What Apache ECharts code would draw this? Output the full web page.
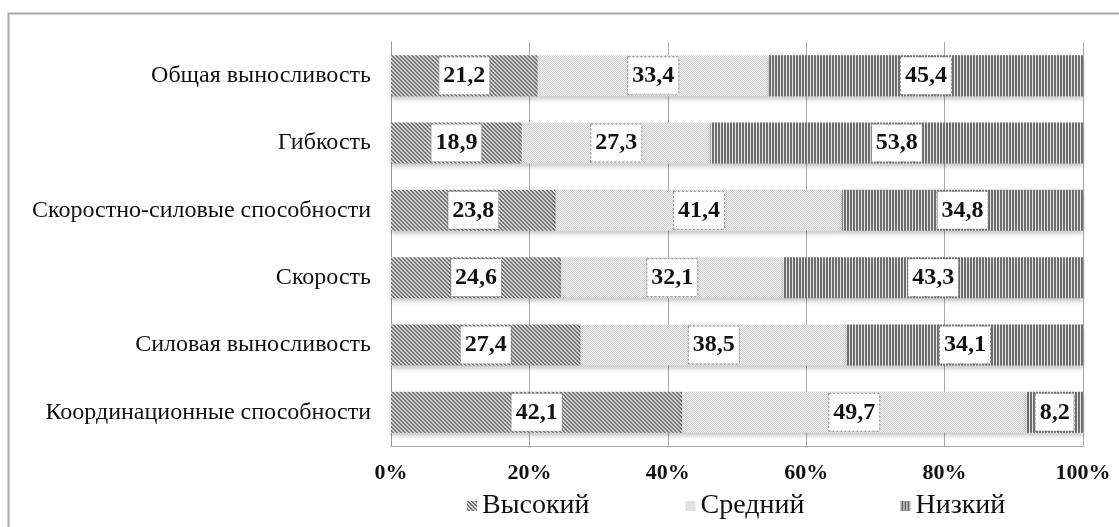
<!DOCTYPE html>
<html>
<head>
<meta charset="utf-8">
<script src="https://cdn.jsdelivr.net/npm/echarts@6/dist/echarts.min.js"></script>
<style>
  html, body { margin: 0; padding: 0; background: #fff; }
  #chart { width: 1119px; height: 527px; }
</style>
</head>
<body>
<div id="chart"></div>
<script>
// Уровни развития физических качеств, %
const categories = [
  'Общая выносливость',
  'Гибкость',
  'Скоростно-силовые способности',
  'Скорость',
  'Силовая выносливость',
  'Координационные способности'
];
const seriesNames = ['Высокий', 'Средний', 'Низкий'];
const highValues = [21.2, 18.9, 23.8, 24.6, 27.4, 42.1];
const midValues = [33.4, 27.3, 41.4, 32.1, 38.5, 49.7];
const lowValues = [45.4, 53.8, 34.8, 43.3, 34.1, 8.2];
const xTicks = [0, 20, 40, 60, 80, 100];

const SERIF = '"Liberation Serif", "DejaVu Serif", serif';

// Hatch fills drawn into small tiles
function tile(w, h, draw) {
  const c = document.createElement('canvas');
  c.width = w; c.height = h;
  const ctx = c.getContext('2d');
  draw(ctx);
  return c;
}
const diagTile = tile(4, 4, ctx => {
  ctx.fillStyle = '#d6d6d6';
  ctx.fillRect(0, 0, 4, 4);
  ctx.fillStyle = '#737373';
  for (let i = 0; i < 4; i++) {
    ctx.fillRect(i, i, 1, 1);
    ctx.fillRect((i + 1) % 4, i, 1, 1);
  }
});
const dotTile = tile(2, 2, ctx => {
  ctx.fillStyle = '#f4f4f4';
  ctx.fillRect(0, 0, 2, 2);
  ctx.fillStyle = '#cfcfcf';
  ctx.fillRect(0, 0, 1, 1);
  ctx.fillRect(1, 1, 1, 1);
});
const vertTile = tile(3, 3, ctx => {
  ctx.fillStyle = '#e4e4e4';
  ctx.fillRect(0, 0, 3, 3);
  ctx.fillStyle = '#6e6e6e';
  ctx.fillRect(1, 0, 2, 3);
});
const fills = [diagTile, dotTile, vertTile];
const values = [highValues, midValues, lowValues];

const chart = echarts.init(document.getElementById('chart'), null, { renderer: 'canvas' });

const series = seriesNames.map((name, i) => ({
  name,
  type: 'bar',
  stack: 'total',
  barWidth: '61%',
  data: values[i],
  itemStyle: {
    color: { image: fills[i], repeat: 'repeat' },
    shadowColor: 'rgba(0,0,0,0.22)',
    shadowBlur: 4,
    shadowOffsetY: 3
  },
  label: {
    show: true,
    position: 'inside',
    formatter: p => String(p.value).replace('.', ','),
    fontFamily: SERIF,
    fontWeight: 'bold',
    fontSize: 24,
    color: '#111',
    backgroundColor: '#fff',
    borderColor: '#888',
    borderWidth: 1,
    borderType: 'dotted',
    padding: [7, 4, 6, 4]
  },
  emphasis: { disabled: true }
}));

chart.setOption({
  animation: false,
  backgroundColor: '#fff',
  graphic: [{
    type: 'rect',
    shape: { x: 8.5, y: 13.5, width: 1300, height: 700 },
    style: { fill: 'none', stroke: '#a8a8a8', lineWidth: 2 },
    silent: true
  }],
  grid: { left: 391, right: 36, top: 42, bottom: 81 },
  legend: {
    data: seriesNames,
    left: 462,
    bottom: 2,
    icon: 'rect',
    itemWidth: 10,
    itemHeight: 10,
    itemGap: 96,
    textStyle: { fontFamily: SERIF, fontSize: 28, color: '#111' }
  },
  xAxis: {
    type: 'value',
    min: 0,
    max: 100,
    interval: 20,
    axisLine: { show: true, lineStyle: { color: '#aaa', width: 1 } },
    axisTick: { show: false },
    splitLine: { show: true, lineStyle: { color: '#aaa', width: 1 } },
    axisLabel: {
      formatter: v => xTicks.includes(v) ? v + '%' : '',
      fontFamily: SERIF,
      fontWeight: 'bold',
      fontSize: 22,
      color: '#111',
      margin: 16
    }
  },
  yAxis: {
    type: 'category',
    inverse: true,
    data: categories,
    axisLine: { show: true, lineStyle: { color: '#999', width: 1 } },
    axisTick: { show: false },
    axisLabel: {
      fontFamily: SERIF,
      fontSize: 24,
      color: '#111',
      margin: 20
    }
  },
  series
});
</script>
</body>
</html>
